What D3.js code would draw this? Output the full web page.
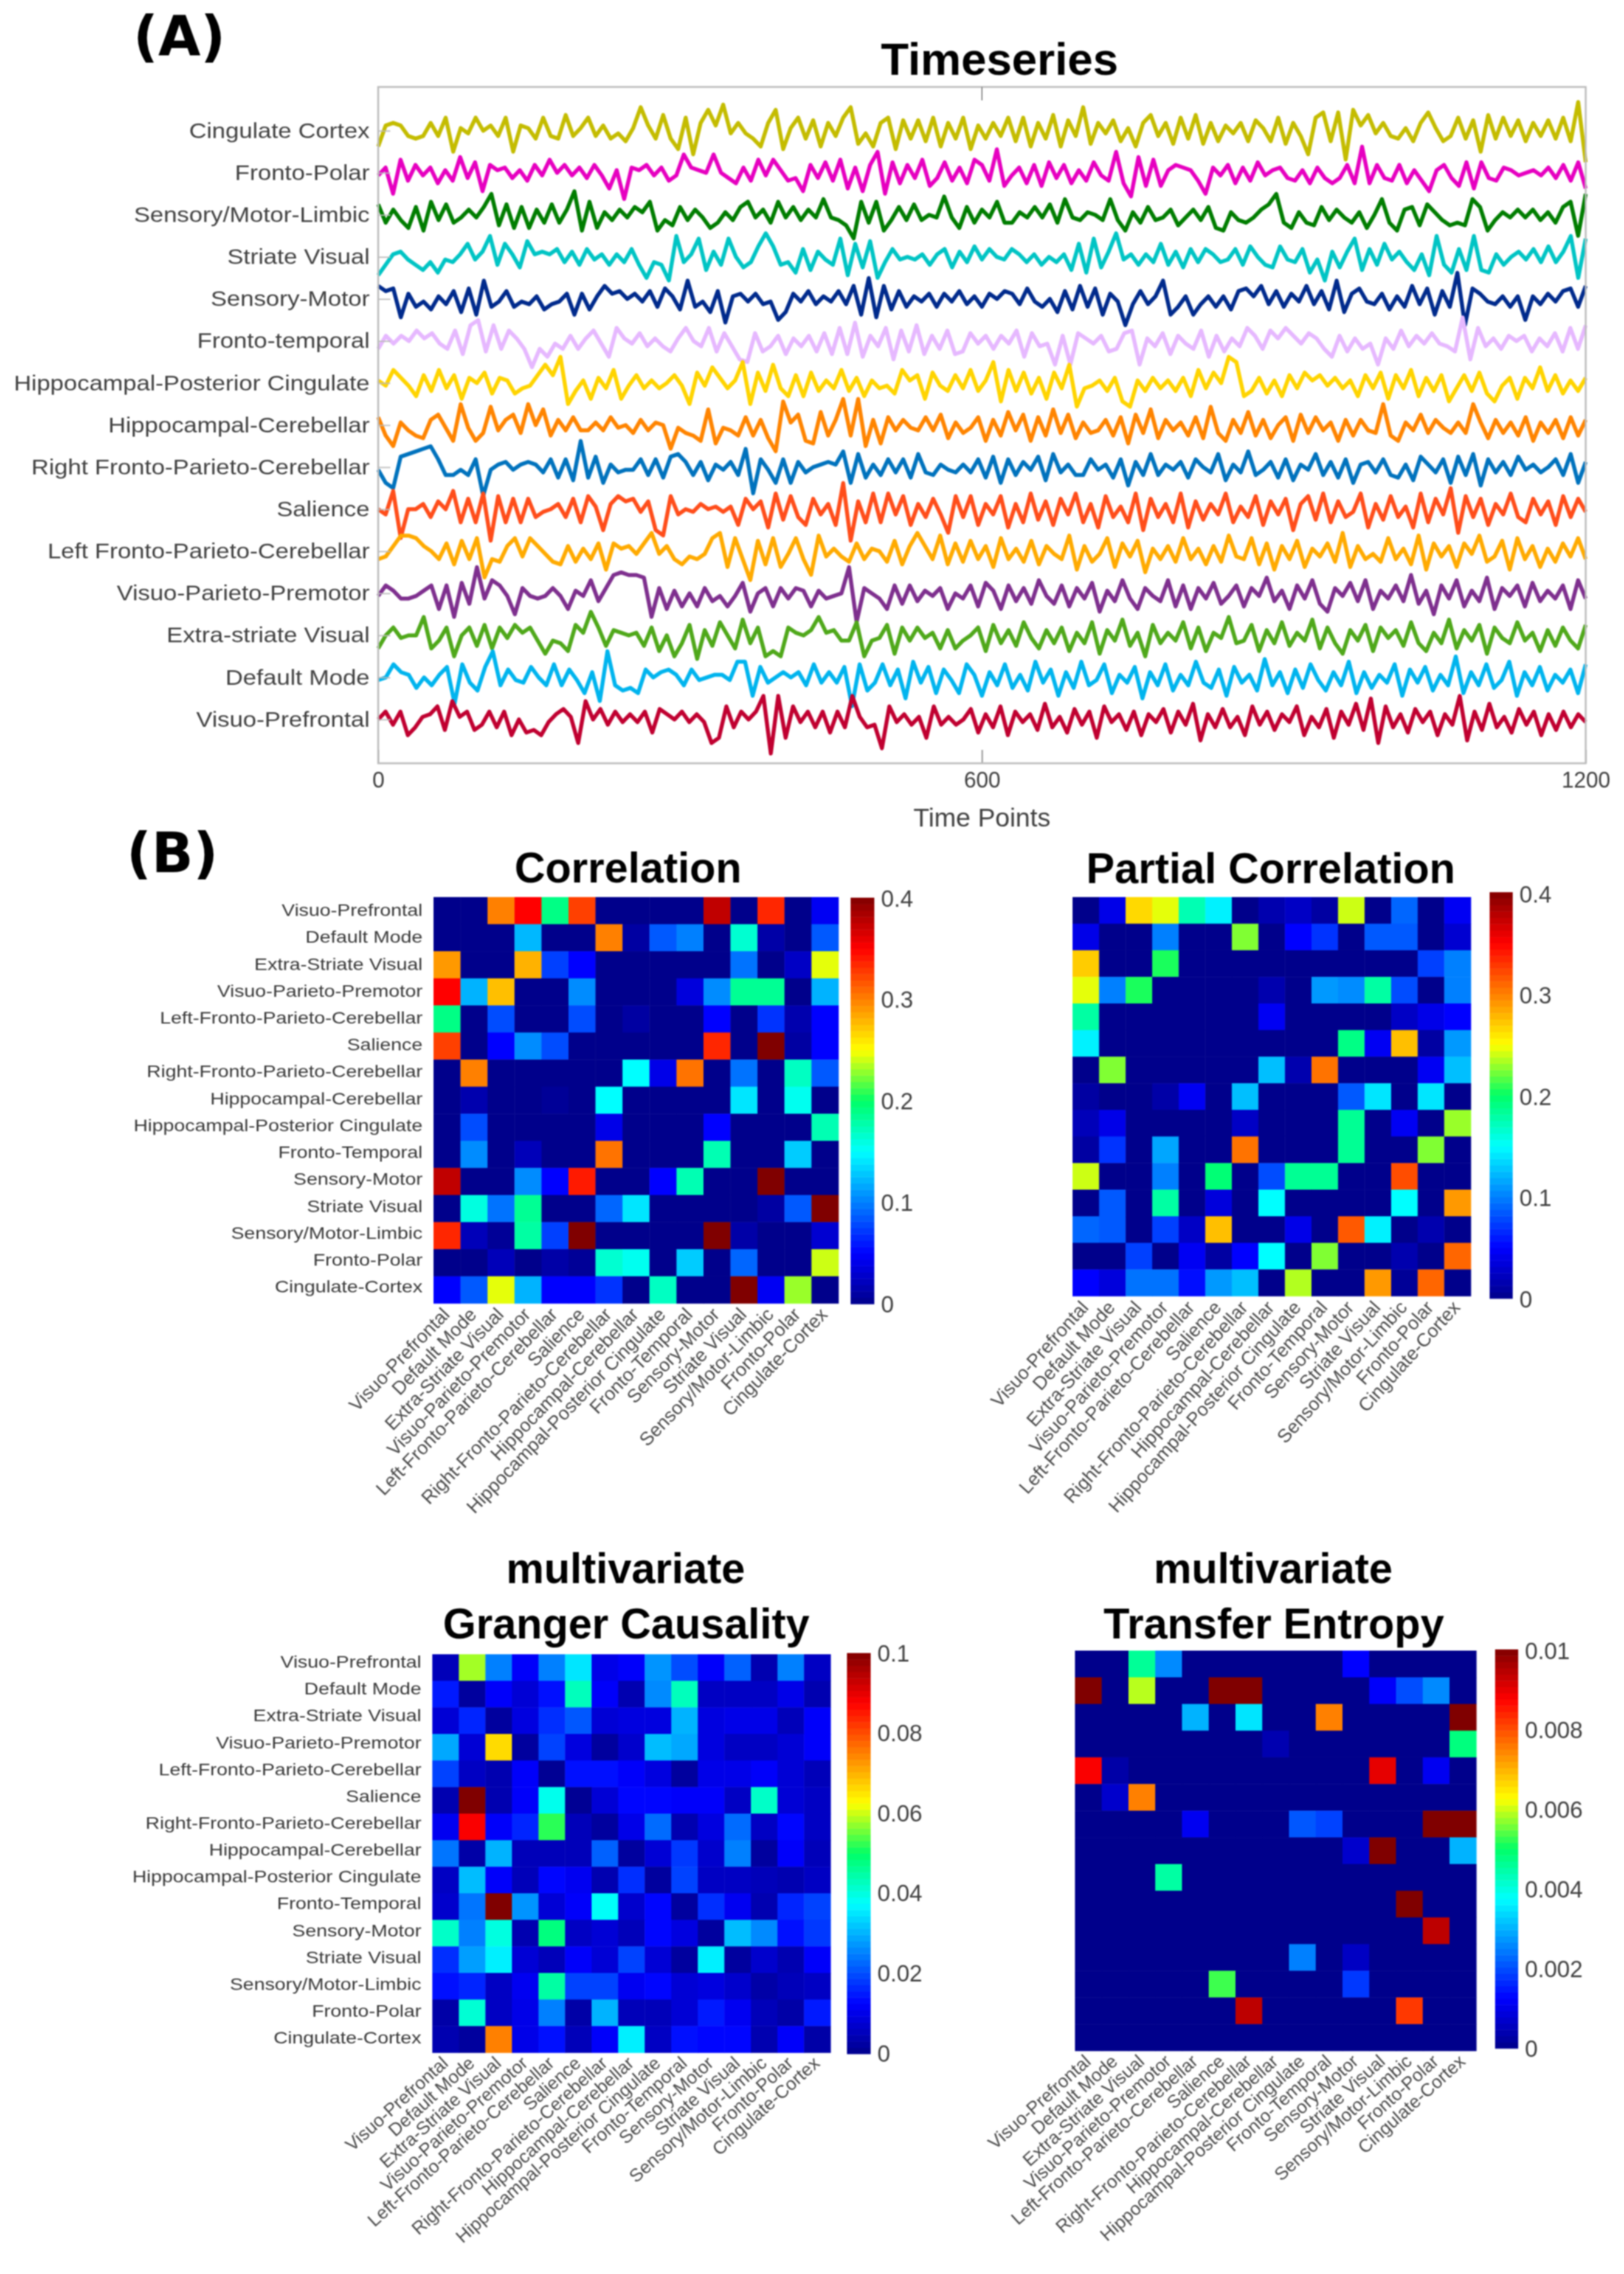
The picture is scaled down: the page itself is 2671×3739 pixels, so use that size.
<!DOCTYPE html>
<html>
<head>
<meta charset="utf-8">
<script src="https://cdn.jsdelivr.net/npm/d3@7.9.0/dist/d3.min.js"></script>
<style>
  body { margin: 0; background: #fff; }
  svg { display: block; filter: blur(1.1px); }
  text { font-family: "Liberation Sans", Arial, sans-serif; }
  .panelTag { font-family: "DejaVu Sans", sans-serif; font-weight: bold; font-size: 90px; fill: #000; }
  .title { font-weight: bold; font-size: 70px; fill: #000; text-anchor: middle; }
</style>
</head>
<body>
<svg id="chart" width="2671" height="3739"></svg>
<script>
// Top panel: labels and line colours, top to bottom
const seriesLabels = ['Cingulate Cortex', 'Fronto-Polar', 'Sensory/Motor-Limbic', 'Striate Visual', 'Sensory-Motor',
  'Fronto-temporal', 'Hippocampal-Posterior Cingulate', 'Hippocampal-Cerebellar', 'Right Fronto-Parieto-Cerebellar',
  'Salience', 'Left Fronto-Parieto-Cerebellar', 'Visuo-Parieto-Premotor', 'Extra-striate Visual', 'Default Mode', 'Visuo-Prefrontal'];
const seriesColors = ['#c4bc00', '#e600c0', '#007d00', '#00c4c4', '#002a8c', '#e6b8ff', '#ffd400', '#ff8400', '#0072bd',
  '#ff4d1a', '#ffaa00', '#7e2f8e', '#4fa81a', '#00b4ee', '#c00030'];
const timeTicks = [0, 600, 1200];

// Signals at about 160 places along the time axis
const cingulate = [-6,2,3,2,-2,-3,-2,3,-2,5,-8,1,-1,5,0,2,-2,5,-8,2,1,-3,5,-2,-3,6,-2,1,5,-2,2,-3,-1,-4,1,9,2,-3,6,-3,-7,5,-9,3,8,2,10,-1,3,-1,-3,-6,3,8,-7,1,5,-3,4,-6,3,-2,5,9,-5,-1,-6,3,5,-7,4,-3,4,-4,5,-6,3,-3,5,-7,2,-3,3,-2,5,-4,5,-6,3,-3,6,-6,4,-2,9,-5,3,-1,4,-4,1,-6,3,6,-2,3,-5,5,-3,6,-5,3,-4,2,-1,3,-4,4,1,-4,5,-5,3,-2,-9,5,7,-4,7,-11,8,2,6,-1,3,-2,-3,1,-4,3,7,1,-4,-2,5,-3,4,-8,6,-3,5,-2,4,-4,3,-2,4,-3,5,-4,11,-12];
const frontoPolar = [-1,2,-8,5,-3,3,-1,2,-4,1,-3,6,-2,4,-7,3,1,2,-2,1,-3,3,-1,5,0,3,-1,2,-2,3,-1,-6,1,-10,2,1,3,-1,2,-3,-1,7,2,1,0,7,0,-2,-4,2,-3,5,-1,5,1,-3,-2,-7,3,-2,4,-3,5,-6,2,-7,3,8,-8,4,-4,3,-2,5,-5,-2,4,-3,2,-4,5,3,-3,9,-5,-1,2,-4,3,-5,4,-2,3,-4,1,-3,4,-1,-3,8,-4,-9,6,-5,5,-5,1,3,2,1,-3,-8,2,-1,3,-4,2,-3,4,-1,1,2,-2,-3,1,-4,2,-2,-4,-2,3,-4,10,-4,3,-2,-3,3,-4,1,-3,-7,1,3,-2,-5,4,-6,4,-2,-3,2,1,-1,0,1,-1,2,-2,3,-3,4,-6];
const sensoryLimbic = [4,-3,2,-2,-5,3,-6,5,-2,4,-3,-1,2,-1,3,8,-4,4,-5,3,-5,2,-3,4,-3,2,9,-6,5,-5,1,-2,2,-1,3,1,5,-6,-2,-4,3,-2,2,-1,-5,-3,1,-2,3,5,-1,2,-3,5,-1,3,-2,2,-1,6,-1,-2,-4,-9,5,-3,5,-6,-2,3,-2,4,-2,0,-1,7,-1,-5,3,-3,2,-1,5,-3,-3,1,-1,3,-1,4,-3,6,-1,-2,1,0,-2,6,-2,-6,1,-3,3,-2,-1,2,-4,-1,2,-2,3,-5,-6,1,-2,-3,-1,2,4,8,-3,-5,1,-3,-4,3,-2,2,-1,-3,1,-5,0,6,-3,-6,2,3,-4,4,1,-2,-4,-3,-4,6,3,-6,-2,1,-1,2,-1,2,-2,1,-3,3,5,-8,8];
const striateVisual = [-7,-3,1,2,-1,-3,-5,-2,-6,-1,-2,1,5,-1,2,8,-3,5,1,-4,6,1,2,1,3,-2,2,-3,3,-1,1,-3,1,-2,3,-3,-8,-2,-3,-9,8,-2,1,7,-5,2,-3,7,0,-4,-2,4,9,4,-3,-2,-6,3,-5,2,-1,-3,7,-7,5,-4,6,-8,-2,3,-1,0,-1,1,-3,1,3,-4,2,-2,4,-1,3,0,-1,3,1,-2,1,-3,0,-2,1,-5,5,-6,7,-4,2,9,-1,1,-3,1,-2,5,-3,2,-4,3,-2,3,1,-2,-1,3,-3,4,0,-3,-4,4,-1,-2,3,-6,-1,-9,2,-4,2,7,-5,3,-3,5,-1,2,-2,-5,1,-7,8,-3,-6,3,-5,8,-5,-6,1,-3,0,2,-1,3,-2,4,-2,2,8,-8,7];
const sensoryMotor = [5,3,4,-7,2,-3,-1,-4,1,-2,3,-5,4,-6,7,-3,-1,3,-3,-1,-2,1,-4,-2,-1,2,-6,2,-4,1,5,2,3,0,2,-1,3,-3,4,1,-4,7,-3,-1,-5,3,-9,1,2,-1,2,-2,-1,-8,-5,2,-1,3,-2,1,-1,3,-2,5,-6,8,-7,5,-4,3,-3,1,-1,2,-3,2,-1,3,-2,1,-3,2,0,3,2,-2,4,-1,-3,0,-5,3,-4,5,-3,4,-6,2,-1,-10,-2,3,-2,1,7,-6,-3,1,-6,-2,1,-3,1,-4,3,4,1,5,-2,3,-3,2,-1,5,-2,3,-4,7,-5,2,4,-1,-2,2,-4,1,-3,5,-2,4,-6,3,-3,10,-10,4,2,-1,-2,1,-3,1,-8,1,-2,2,-1,3,4,-3,5];
const frontoTemporal = [-3,2,-1,2,0,4,1,3,-1,-3,4,-5,6,8,-4,6,-3,4,1,-3,-10,-3,-6,-1,-3,2,-3,1,4,-1,-6,5,1,-1,3,-2,1,-2,-4,1,5,0,-2,5,-4,3,-2,-7,-8,3,-4,-2,2,-5,1,-2,2,-4,3,-5,5,-5,7,-6,2,-2,5,-7,4,-4,6,-5,2,-3,4,-5,-4,3,-1,2,-3,2,-1,4,-6,3,-2,-1,-9,2,-9,3,1,-1,2,-4,-3,3,4,-9,1,-2,3,-5,2,-1,-3,4,-6,2,-4,1,-2,5,2,-3,4,1,5,2,-1,3,1,-3,-6,2,-4,1,-3,-1,-9,1,-3,4,-2,2,-1,3,-1,-2,-4,9,-7,5,-2,1,-3,2,0,2,-4,1,-2,3,-4,5,-3,6];
const hippoPosterior = [1,-1,5,2,-1,-5,3,-3,5,-2,3,-6,2,0,4,-4,2,1,-4,-2,-1,3,7,3,10,-8,-3,1,-6,2,-2,5,-6,-1,3,-2,1,-2,0,3,-1,-8,4,-1,6,2,-2,1,8,-8,4,-3,7,-2,-5,3,-5,4,-3,1,-2,5,-3,2,-5,1,-2,-1,-4,5,1,3,-6,4,-1,-3,3,-2,5,-3,1,8,-7,5,-3,4,-4,2,-6,4,-2,7,-9,-2,-1,1,-3,2,-7,-9,1,-3,2,-2,1,-3,2,-5,5,-2,4,0,10,8,-5,-3,2,-4,1,-5,3,-2,4,1,3,-1,2,-2,1,-5,3,-2,4,-6,3,-2,5,-5,2,-3,3,-7,-2,3,-3,4,-4,-7,-1,2,-6,2,-2,6,-3,3,-4,1,-3,2];
const hippoCerebellar = [3,-4,-8,1,-2,-4,-5,2,4,-1,-6,8,-1,-6,-3,7,-2,2,4,-3,8,0,6,-4,2,-2,3,-2,-2,1,-2,3,-1,0,-3,2,-2,1,0,-9,-1,-3,-4,-6,6,-7,-1,-2,-4,3,-4,2,-5,-10,9,1,4,-6,-7,5,-4,2,10,-4,10,-8,2,-7,3,-2,2,-1,-2,3,-2,4,-5,1,-3,-1,3,-6,2,-4,5,-2,4,-6,3,-4,6,-3,4,-5,1,-3,-2,2,-4,3,-7,4,-3,6,-5,2,-2,1,-4,3,-5,7,-3,-6,2,-3,5,-4,2,-5,0,3,-6,4,-3,3,-2,1,-6,2,-4,2,-2,-3,8,-4,-6,1,-2,4,-3,2,-1,-3,1,-3,8,1,-5,2,-3,1,-4,3,-6,1,-3,2,-5,3,-4,2];
const rightFronto = [-1,-6,-8,4,5,6,7,8,3,-3,-3,-1,-3,3,-11,-1,1,2,-1,1,2,1,-2,3,-4,3,-5,10,-4,4,-6,1,-2,-1,-1,3,-3,3,-4,4,5,2,-3,2,-5,1,-1,2,-3,7,-10,3,-1,-6,3,-6,2,-2,0,1,2,1,6,-6,5,-4,1,-3,3,-2,3,-4,5,-2,-3,1,-1,-2,1,-2,3,-4,4,-6,3,-3,2,-1,4,-5,5,-2,1,-3,-3,3,-1,1,-4,3,-7,2,-3,5,-3,1,-1,2,-4,3,0,-2,5,-5,1,-2,6,-3,-1,2,-4,3,-5,1,-1,5,-3,2,-4,3,-6,1,2,-2,3,-3,-4,1,-5,4,1,-2,3,-6,4,-3,5,-7,3,-2,2,-3,4,-1,1,-2,0,3,-3,5,-6,2];
const salience = [0,-2,7,-11,0,0,2,-3,3,0,7,-5,4,-5,6,-12,5,-5,4,-5,4,-3,-1,0,2,-3,4,-5,5,1,-8,2,5,3,4,-1,3,-8,-10,5,-2,0,-1,2,0,1,-1,1,-6,4,0,3,-7,6,-4,5,-3,-6,4,-2,2,-6,10,-12,3,-5,6,-5,6,-2,5,-6,2,-3,4,-2,-9,5,-3,5,-6,2,-2,5,-7,2,-5,6,-4,3,-6,4,-2,6,-5,2,-7,5,-3,1,-5,6,-8,4,-3,2,-5,6,-7,3,-4,2,-2,6,-5,1,-3,5,-6,3,-2,4,-8,2,5,-4,6,-5,3,-3,-1,6,-7,2,-4,5,-3,1,-7,6,-5,4,-2,8,-9,5,-3,4,-6,2,-2,6,-3,-5,4,-2,3,-6,5,-3,4,-1];
const leftFronto = [-3,-2,2,6,6,5,2,0,-3,3,-5,4,-3,5,-10,-3,-4,2,5,-2,5,2,-1,-4,-5,2,-4,1,-3,3,-7,3,1,2,-1,3,7,-1,2,-3,-5,-2,-3,-1,5,7,-6,5,-3,-11,4,-5,5,-6,-1,5,-3,-9,6,-2,1,-2,-4,3,-3,1,0,-4,4,-5,2,7,2,-3,6,-5,3,-4,4,-3,2,-6,5,-3,1,-4,4,-5,2,-1,-3,6,-7,2,-4,-1,5,-6,3,-2,4,-8,1,-3,2,-4,5,-3,1,-5,2,-4,6,-2,-3,5,-5,3,-7,2,-3,4,-6,1,-2,3,-4,7,-6,2,-3,-1,-4,5,-3,1,-5,6,-7,3,-2,2,-6,3,-1,6,-4,-2,4,-7,5,-3,2,-6,1,-4,3,-2,5,-3];
const visuoParieto = [-1,3,1,-2,-2,-1,1,3,-6,3,-9,4,-4,10,-2,5,3,-1,-8,2,-1,-2,-1,2,-1,-6,1,-1,5,-3,2,7,8,7,7,6,-9,2,-6,1,-5,0,-5,2,-3,-1,-5,-1,4,-7,0,2,-5,2,-2,2,1,-5,1,-2,-1,0,10,-11,2,0,-2,-6,3,-4,3,-3,1,-1,2,-6,0,-2,3,-5,4,1,-6,3,-3,2,-4,5,-1,-4,3,-5,2,-2,4,-7,1,-3,5,-2,-6,2,-1,-3,5,-5,3,-6,2,-2,4,-4,-1,3,-5,2,-1,6,-3,1,-6,3,-2,5,-4,-7,2,-1,4,-3,5,-6,1,-2,3,-3,7,-4,1,-8,3,-2,5,-5,1,-3,6,-6,2,-1,3,-5,4,-3,1,-2,3,-6,5,-2];
const extraStriate = [-5,0,3,-1,0,0,7,-5,-2,3,-8,0,3,-4,4,-5,3,-1,4,1,3,-2,-7,-2,-3,-6,4,1,9,3,-4,2,1,0,1,-4,3,-6,0,-8,-3,4,-9,2,-4,5,0,-5,6,-3,3,-8,-6,-8,3,1,0,2,7,1,2,-2,-2,5,-8,-2,-1,4,-7,3,-2,3,-1,1,-5,2,-5,-2,0,3,-6,4,-3,2,-4,5,-1,-5,2,-3,3,-6,1,-3,5,-7,2,-2,6,-4,1,-8,4,-3,1,-2,5,-5,3,-6,1,-1,7,-3,-2,4,-6,2,-3,5,-4,1,-2,6,-5,3,-3,-7,2,-2,4,-6,3,-1,2,-4,5,-3,-6,1,-3,6,-5,2,-2,4,-7,3,-1,-3,5,-2,1,-6,2,-4,3,-2,-5,4];
const defaultMode = [-1,0,5,2,1,-4,0,-3,1,4,-10,5,-2,-5,4,10,-3,3,-1,-2,4,0,-3,5,-3,3,-1,-6,2,-9,10,-3,-5,-4,-6,3,0,2,3,1,-3,3,-1,0,1,1,-1,6,6,-7,4,-2,0,2,0,2,-3,5,-2,2,-2,4,-11,5,-5,-2,5,-3,3,-8,6,-2,4,-6,3,-1,-6,5,1,-7,2,-3,5,-4,1,-5,6,-2,3,-7,2,-4,6,-3,-1,5,-6,1,-2,4,-8,2,-3,5,-5,1,-3,6,-2,-4,3,-7,4,-2,1,-5,7,-3,2,-6,3,-4,5,-1,-5,2,-3,6,-6,2,-4,1,-2,5,-7,3,-2,4,-5,1,-3,8,-6,2,-3,5,-4,-1,6,-7,2,-3,4,-5,1,-2,3,-6,5];
const visuoPrefrontal = [0,3,-2,3,-6,-3,1,2,5,-4,7,1,3,-4,-2,3,-3,3,-6,0,-5,-4,-6,-1,2,4,1,-9,7,0,4,-2,3,-1,2,-1,3,-5,4,2,0,3,-1,2,-1,-9,-7,5,-3,3,0,3,9,-13,9,-7,5,-1,3,-3,3,-5,3,-3,9,1,-3,-2,-11,5,-1,2,-2,1,-7,5,-2,1,-2,0,4,-5,2,-3,5,-6,3,-1,2,-4,6,-3,1,-5,4,-2,3,-7,5,-1,2,-4,3,-6,2,-1,4,-5,3,-2,6,-8,2,-3,4,-3,1,-6,5,-2,3,-4,2,-1,5,-6,1,-3,4,-7,3,-2,6,-4,8,-9,5,-3,2,-5,4,-1,3,-6,2,-2,9,-8,3,-4,6,-3,1,-5,4,-2,3,-6,2,-4,3,-3,2,-1];
const seriesValues = [cingulate, frontoPolar, sensoryLimbic, striateVisual, sensoryMotor, frontoTemporal, hippoPosterior,
  hippoCerebellar, rightFronto, salience, leftFronto, visuoParieto, extraStriate, defaultMode, visuoPrefrontal];

// Heatmap panels share these row/column names
const regionLabels = ['Visuo-Prefrontal', 'Default Mode', 'Extra-Striate Visual', 'Visuo-Parieto-Premotor',
  'Left-Fronto-Parieto-Cerebellar', 'Salience', 'Right-Fronto-Parieto-Cerebellar', 'Hippocampal-Cerebellar',
  'Hippocampal-Posterior Cingulate', 'Fronto-Temporal', 'Sensory-Motor', 'Striate Visual', 'Sensory/Motor-Limbic',
  'Fronto-Polar', 'Cingulate-Cortex'];

const correlationValues = [
  [0,0,.3,.35,.19,.325,0,0,0,0,.375,0,.335,0,.045],
  [0,0,0,.122,0,0,.3,.01,.085,.1,0,.165,.012,0,.085],
  [.29,0,0,.28,.075,.05,0,0,0,0,0,.095,0,.025,.245],
  [.35,.12,.275,0,0,.105,0,0,0,.035,.105,.185,.185,0,.12],
  [.19,0,.08,0,0,.08,0,.01,0,0,.05,0,.07,.015,.05],
  [.325,0,.05,.105,.08,0,0,0,0,0,.335,0,.4,.01,.05],
  [0,.3,0,0,0,0,0,.15,.04,.305,0,.095,0,.17,.085],
  [0,.015,0,0,.005,0,.15,0,0,0,0,.14,0,.155,0],
  [0,.08,0,0,0,0,.04,0,0,0,.05,0,0,0,.175],
  [0,.105,0,.02,0,0,.305,0,0,0,.175,0,0,.13,0],
  [.375,0,0,.105,.05,.34,0,0,.05,.175,0,0,.4,0,0],
  [0,.16,.095,.185,0,0,.09,.14,0,0,0,0,.01,.085,.4],
  [.335,.02,.005,.18,.075,.4,0,0,0,0,.4,.012,0,0,.03],
  [0,0,.02,0,.012,.005,.165,.155,0,.13,0,.09,0,0,.24],
  [.05,.085,.245,.12,.05,.05,.07,0,.17,0,0,.4,.045,.23,0]
];
const partialValues = [
  [0,.04,.265,.245,.175,.145,0,.015,.025,.01,.24,0,.09,0,.045],
  [.04,0,0,.1,0,0,.225,0,.05,.07,0,.085,.085,0,.03],
  [.27,0,0,.205,0,0,0,0,0,0,0,0,0,.075,.1],
  [.245,.1,.205,0,0,0,0,.015,0,.11,.105,.18,.08,0,.1],
  [.18,0,0,0,0,0,0,.045,0,0,0,0,.025,.04,.05],
  [.145,0,0,0,0,0,0,0,0,0,.19,.045,.275,.01,.11],
  [0,.225,0,0,0,0,0,.125,.015,.305,0,0,0,.045,.125],
  [.01,0,0,.012,.045,0,.125,0,0,0,.085,.14,0,.14,0],
  [.02,.04,0,0,0,0,.025,0,0,0,.185,0,.045,0,.23],
  [.01,.07,0,.115,0,0,.305,0,0,0,.185,0,0,.225,0],
  [.24,0,0,.1,0,.195,0,.08,.185,.185,0,0,.32,0,0],
  [0,.085,0,.18,0,.035,0,.15,0,0,0,0,.15,0,.29],
  [.09,.085,0,.075,.025,.275,0,0,.04,0,.315,.145,0,.015,0],
  [0,0,.075,0,.045,.01,.05,.15,0,.225,0,0,.015,0,.31],
  [.05,.035,.095,.095,.055,.11,.125,0,.235,0,0,.29,.005,.31,0]
];
const grangerValues = [
  [.005,.058,.025,.012,.025,.035,.01,.012,.027,.02,.012,.022,.004,.025,.006],
  [.015,.002,.012,.008,.014,.043,.012,.004,.026,.043,.006,.006,.006,.01,.004],
  [.008,.016,.002,.009,.017,.021,.008,.009,.009,.03,.009,.01,.01,.005,.012],
  [.029,.008,.066,.002,.019,.009,.002,.007,.031,.029,.009,.006,.006,.008,.012],
  [.019,.006,.004,.012,.001,.014,.014,.012,.009,.002,.01,.01,.012,.008,.005],
  [.004,.1,.004,.012,.039,.001,.008,.013,.013,.012,.012,.006,.042,.008,.006],
  [.011,.088,.012,.016,.052,.005,.002,.01,.023,.004,.009,.023,.006,.013,.006],
  [.024,.003,.03,.005,.005,.005,.022,.002,.008,.018,.007,.025,.002,.012,.005],
  [.006,.031,.012,.005,.013,.011,.004,.017,.002,.019,.006,.006,.005,.004,.006],
  [.007,.024,.1,.027,.008,.012,.038,.007,.013,.002,.017,.011,.004,.016,.019],
  [.042,.025,.04,.004,.048,.006,.008,.005,.013,.009,.002,.031,.026,.014,.018],
  [.017,.028,.036,.008,.005,.012,.008,.019,.008,.002,.036,.002,.007,.004,.012],
  [.014,.016,.006,.011,.045,.019,.019,.011,.013,.008,.009,.007,.003,.005,.006],
  [.003,.041,.006,.01,.025,.003,.03,.005,.005,.008,.015,.011,.005,.003,.015],
  [.004,.002,.075,.01,.014,.005,.012,.036,.006,.014,.013,.013,.004,.012,.003]
];
const entropyValues = [
  [0,0,.0046,.0026,0,0,0,0,0,0,.00125,0,0,0,0],
  [.01,0,.0059,0,0,.01,.01,0,0,0,0,.0012,.002,.0026,0],
  [0,0,0,0,.003,0,.0035,0,0,.0075,0,0,0,0,.01],
  [0,0,0,0,0,0,0,.0004,0,0,0,0,0,0,.0048],
  [.0088,.0003,0,0,0,0,0,0,0,0,0,.009,0,.0011,0],
  [0,.0007,.0075,0,0,0,0,0,0,0,0,0,0,0,0],
  [0,0,0,0,.0011,0,0,0,.0021,.0019,0,0,0,.01,.01],
  [0,0,0,0,0,0,0,0,0,0,.0007,.01,0,0,.003],
  [0,0,0,.0045,0,0,0,0,0,0,0,0,0,0,0],
  [0,0,0,0,0,0,0,0,0,0,0,0,.01,0,0],
  [0,0,0,0,0,0,0,0,0,0,0,0,0,.0094,0],
  [0,0,0,0,0,0,0,0,.0025,0,.0006,0,0,0,0],
  [0,0,0,0,0,.0053,0,0,0,0,.0018,0,0,0,0],
  [0,0,0,0,0,0,.0094,0,0,0,0,0,.0082,0,0],
  [0,0,0,0,0,0,0,0,0,0,0,0,0,0,0]
];

const correlationTicks = [0, 0.1, 0.2, 0.3, 0.4];
const grangerTicks = [0, 0.02, 0.04, 0.06, 0.08, 0.1];
const entropyTicks = [0, 0.002, 0.004, 0.006, 0.008, 0.01];

const svg = d3.select('#chart');

// jet-like colormap, 64 levels like the bars in the figure
const jet = d3.scaleLinear()
  .domain([0, 0.125, 0.375, 0.5, 0.625, 0.875, 1])
  .range(['#00008b', '#0000ff', '#00ffff', '#00ff66', '#ffff00', '#ff0000', '#800000'])
  .clamp(true);
const levels = d3.range(64);

// ---- (A) time series ----
const tsBox = { left: 622, right: 2608, top: 143, bottom: 1255 };
const x = d3.scaleLinear().domain([0, 1200]).range([tsBox.left, tsBox.right]);
const rows = d3.scalePoint().domain(seriesLabels).range([215, 1183]);
const amp = d3.scaleLinear().domain([-10, 10]).range([43, -43]);

const ts = svg.append('g');

seriesValues.forEach((values, i) => {
  const step = 1200 / (values.length - 1);
  const line = d3.line()
    .x((d, j) => x(j * step))
    .y((d) => rows(seriesLabels[i]) + amp(d));
  ts.append('path')
    .attr('d', line(values))
    .attr('fill', 'none')
    .attr('stroke', seriesColors[i])
    .attr('stroke-width', 6.5)
    .attr('stroke-linejoin', 'round');
});

// box, ticks and labels on top of the lines
const yAxisTs = ts.append('g')
  .attr('transform', `translate(${tsBox.left},0)`)
  .call(d3.axisLeft(rows).tickSizeInner(-20).tickSizeOuter(0).tickPadding(14));
yAxisTs.selectAll('text')
  .attr('font-size', 35)
  .attr('x', -14 / 1.14)
  .attr('transform', 'scale(1.14,1)')
  .attr('fill', '#404040');
yAxisTs.selectAll('line').attr('stroke', '#bbb').attr('stroke-width', 2);

const xAxisTs = ts.append('g')
  .attr('transform', `translate(0,${tsBox.bottom})`)
  .call(d3.axisBottom(x).tickValues(timeTicks).tickFormat(d3.format('d')).tickSizeInner(-22).tickSizeOuter(0).tickPadding(14));
xAxisTs.selectAll('text').attr('font-size', 36).attr('fill', '#404040');
xAxisTs.selectAll('line').attr('stroke', '#888').attr('stroke-width', 2);

ts.append('rect')
  .attr('x', tsBox.left).attr('y', tsBox.top)
  .attr('width', tsBox.right - tsBox.left).attr('height', tsBox.bottom - tsBox.top)
  .attr('fill', 'none').attr('stroke', '#bcbcbc').attr('stroke-width', 3);
ts.append('line')
  .attr('x1', x(600)).attr('x2', x(600))
  .attr('y1', tsBox.top).attr('y2', tsBox.top + 22)
  .attr('stroke', '#888').attr('stroke-width', 2);

ts.append('text').attr('class', 'title').attr('x', 1644).attr('y', 123).style('font-size', '75px').text('Timeseries');
ts.append('text').attr('x', 1615).attr('y', 1359).attr('text-anchor', 'middle')
  .attr('font-size', 43).attr('fill', '#404040').text('Time Points');

svg.append('text').attr('class', 'panelTag').attr('x', 219).attr('y', 91).text('(A)');
svg.append('text').attr('class', 'panelTag').attr('x', 208).attr('y', 1434).text('(B)');

// ---- (B) heatmaps ----
function drawHeatmap(p) {
  const g = svg.append('g');
  const col = d3.scaleBand().domain(regionLabels).range([p.x0, p.x1]);
  const row = d3.scaleBand().domain(regionLabels).range([p.y0, p.y1]);
  const color = d3.scaleLinear().domain([0, p.max]).range([0, 1]);

  p.values.forEach((cells, r) => {
    g.selectAll(null)
      .data(cells)
      .join('rect')
      .attr('x', (d, c) => col(regionLabels[c]))
      .attr('y', row(regionLabels[r]))
      .attr('width', col.bandwidth() + 0.5)
      .attr('height', row.bandwidth() + 0.5)
      .attr('fill', (d) => jet(color(d)));
  });

  // row names only on the left-hand panels, they sit a little above the cell centres
  if (p.labelY) {
    const labelRow = d3.scalePoint().domain(regionLabels).range(p.labelY);
    const ya = g.append('g')
      .attr('transform', `translate(${p.x0},0)`)
      .call(d3.axisLeft(labelRow).tickSize(0));
    ya.select('.domain').remove();
    ya.selectAll('text')
      .attr('font-size', 27)
      .attr('x', -18 / 1.2)
      .attr('transform', 'scale(1.2,1)')
      .attr('fill', '#383838');
  }

  const xa = g.append('g')
    .attr('transform', `translate(0,${p.y1})`)
    .call(d3.axisBottom(col).tickSize(0));
  xa.select('.domain').remove();
  xa.selectAll('text')
    .attr('font-size', p.xFont)
    .attr('fill', '#4a4a4a')
    .attr('text-anchor', 'end')
    .attr('dy', 0)
    .attr('y', 0)
    .attr('transform', `translate(6,20) rotate(${p.xAngle})`);

  // colorbar
  const barY = d3.scaleBand().domain(levels).range([p.barY1, p.barY0]);
  g.selectAll(null)
    .data(levels)
    .join('rect')
    .attr('x', p.barX0)
    .attr('width', p.barX1 - p.barX0)
    .attr('y', (d) => barY(d))
    .attr('height', barY.bandwidth() + 0.5)
    .attr('fill', (d) => jet((d + 0.5) / 64));

  const barScale = d3.scaleLinear().domain([0, p.max]).range([p.tickY0, p.tickY1]);
  const barAxis = g.append('g')
    .attr('transform', `translate(${p.barX1},0)`)
    .call(d3.axisRight(barScale).tickValues(p.ticks).tickFormat((d) => String(+d.toFixed(3))).tickSize(0).tickPadding(11));
  barAxis.select('.domain').remove();
  barAxis.selectAll('text')
    .attr('font-size', 38)
    .attr('fill', '#404040');

  p.title.forEach((t) => {
    g.append('text').attr('class', 'title').attr('x', t.x).attr('y', t.y).text(t.text);
  });
}

const panels = [
  { values: correlationValues, max: 0.4, ticks: correlationTicks, labelY: [1497, 2116], xFont: 31, xAngle: -46,
    x0: 713, x1: 1379, y0: 1475, y1: 2143,
    barX0: 1399, barX1: 1438, barY0: 1476, barY1: 2144, tickY0: 2145, tickY1: 1478,
    title: [{ text: 'Correlation', x: 1033, y: 1451 }] },
  { values: partialValues, max: 0.4, ticks: correlationTicks, labelY: null, xFont: 31, xAngle: -48,
    x0: 1764, x1: 2419, y0: 1475, y1: 2131,
    barX0: 2450, barX1: 2488, barY0: 1467, barY1: 2135, tickY0: 2137, tickY1: 1471,
    title: [{ text: 'Partial Correlation', x: 2090, y: 1452 }] },
  { values: grangerValues, max: 0.1, ticks: grangerTicks, labelY: [2733, 3351], xFont: 30, xAngle: -42,
    x0: 711, x1: 1366, y0: 2720, y1: 3375,
    barX0: 1393, barX1: 1432, barY0: 2718, barY1: 3377, tickY0: 3377, tickY1: 2719,
    title: [{ text: 'multivariate', x: 1029, y: 2603 }, { text: 'Granger Causality', x: 1030, y: 2694 }] },
  { values: entropyValues, max: 0.01, ticks: entropyTicks, labelY: null, xFont: 30, xAngle: -42,
    x0: 1768, x1: 2428, y0: 2714, y1: 3372,
    barX0: 2459, barX1: 2497, barY0: 2712, barY1: 3368, tickY0: 3369, tickY1: 2715,
    title: [{ text: 'multivariate', x: 2094, y: 2603 }, { text: 'Transfer Entropy', x: 2095, y: 2694 }] }
];

panels.forEach(drawHeatmap);
</script>
</body>
</html>
